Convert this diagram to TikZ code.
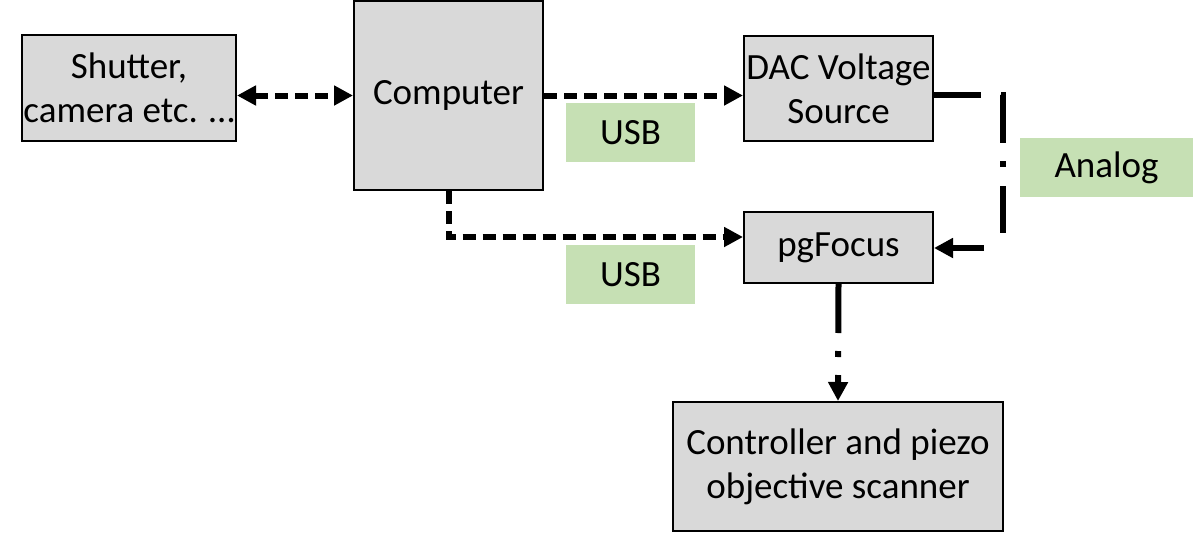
\documentclass[tikz,border=0pt]{standalone}
\usepackage{fontspec}
\setmainfont{Carlito}
\usetikzlibrary{arrows.meta}
\definecolor{boxgray}{RGB}{217,217,217}
\definecolor{lblgreen}{RGB}{198,224,180}
\begin{document}
\begin{tikzpicture}[x=1pt,y=-1pt,
  font=\fontsize{37}{44}\selectfont,
  blk/.style={draw=black,line width=2pt,fill=boxgray,inner sep=0pt,align=center},
  lbl/.style={fill=lblgreen,inner sep=0pt,align=center},
  conn/.style={line width=6pt},
  dsh/.style={conn,dash pattern=on 13pt off 7pt},
  tip/.style={-{Triangle[length=19pt,width=19pt]}},
  tips/.style={{Triangle[length=19pt,width=19pt]}-{Triangle[length=19pt,width=19pt]}}
]
\useasboundingbox (0,0) rectangle (1193,535);
\node[blk,minimum width=214pt,minimum height=106pt] (shutter) at (129,88) {Shutter,\\camera etc. …};
\node[blk,minimum width=189pt,minimum height=189pt] (computer) at (448.5,95.5) {Computer};
\node[blk,minimum width=189pt,minimum height=105pt] (dac) at (838.5,88.5) {DAC Voltage\\Source};
\node[blk,minimum width=189pt,minimum height=71pt] (pg) at (838.5,247.5) {pgFocus};
\node[blk,minimum width=330pt,minimum height=129pt] (ctrl) at (838,466.5) {Controller and piezo\\objective scanner};
\node[lbl,minimum width=129pt,minimum height=59pt] (usb1) at (630.5,132.5) {USB};
\node[lbl,minimum width=129pt,minimum height=59pt] (usb2) at (630.5,274.5) {USB};
\node[lbl,minimum width=173pt,minimum height=59pt] (analog) at (1106.5,167.5) {Analog};
\coordinate (cy) at (448,237);
\coordinate (k1) at (1003,95);
\coordinate (k2) at (1003,248);
\draw[dsh,tips] (shutter.east |- computer.west) -- (computer.west);
\draw[dsh,tip] (computer.east) -- (dac.west |- computer.east);
\draw[dsh,tip] (computer.south) |- (pg.west |- cy);
\draw[conn,tip,dash pattern=on 47pt off 20pt on 50pt off 18pt on 6pt off 19pt on 47pt off 34pt on 80pt] (dac.east |- k1) -- (k1) -- (k2) -- (pg.east |- k2);
\draw[conn,tip,dash pattern=on 49pt off 18pt on 6pt off 18pt] (pg.south) -- (ctrl.north);
\end{tikzpicture}
\end{document}
